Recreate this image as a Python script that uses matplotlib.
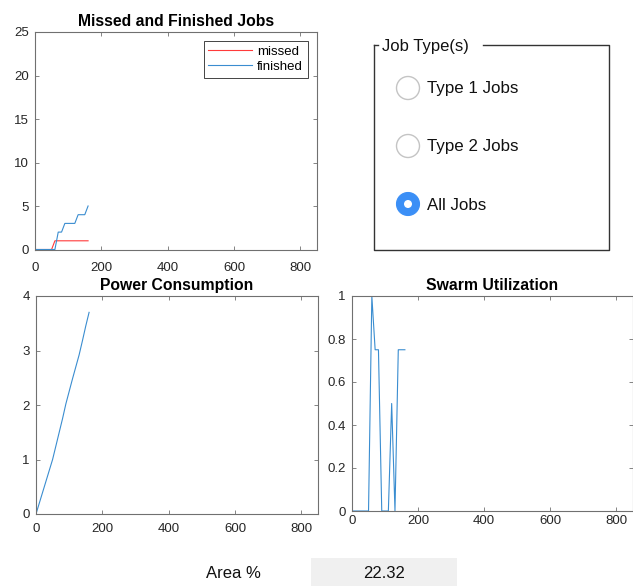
import matplotlib
matplotlib.use("Agg")
import matplotlib.pyplot as plt
from matplotlib.patches import Circle, Rectangle
from matplotlib.ticker import MultipleLocator

plt.rcParams['font.family'] = ['Liberation Sans', 'DejaVu Sans']

# time samples (s)
time = [0, 10, 20, 30, 40, 50, 60, 70, 80, 90, 100, 110, 120, 130, 140, 150, 160]
missed = [0, 0, 0, 0, 0, 0, 1, 1, 1, 1, 1, 1, 1, 1, 1, 1, 1]
finished = [0, 0, 0, 0, 0, 0, 0, 2, 2, 3, 3, 3, 3, 4, 4, 4, 5]
power = [0, 0.2, 0.4, 0.6, 0.8, 1.0, 1.25, 1.5, 1.75, 2.02, 2.25, 2.48, 2.7, 2.92, 3.18, 3.45, 3.7]
util = [0, 0, 0, 0, 0, 0, 1, 0.75, 0.75, 0, 0, 0, 0.5, 0, 0.75, 0.75, 0.75]

job_types = ['Type 1 Jobs', 'Type 2 Jobs', 'All Jobs']
selected = 'All Jobs'
area_pct = '22.32'

W, H = 633, 586
AX_C = '#262626'
SPINE_C = '#707070'
BLUE = '#3a8dd0'
RED = '#ff3a3a'
TICK_FS = 9.5
TITLE_FS = 11.3


def px_axes(fig, x0, y0, x1, y1):
    # pixel box (top-left origin) -> figure axes
    return fig.add_axes([x0 / W, 1 - y1 / H, (x1 - x0) / W, (y1 - y0) / H])


def matlab_style(ax, ymax, ystep, xpad):
    ax.set_xlim(0, 850)
    ax.set_ylim(0, ymax)
    ax.xaxis.set_major_locator(MultipleLocator(200))
    ax.yaxis.set_major_locator(MultipleLocator(ystep))
    ax.tick_params(direction='in', length=3, width=0.6, colors=SPINE_C,
                   labelcolor=AX_C, labelsize=TICK_FS, top=True, right=True)
    ax.tick_params(axis='y', pad=4.5)
    ax.tick_params(axis='x', pad=xpad)
    for s in ax.spines.values():
        s.set_color(SPINE_C)
        s.set_linewidth(0.8)


fig = plt.figure(figsize=(W / 100, H / 100), dpi=100)

# missed / finished
ax1 = px_axes(fig, 35, 32, 317, 249.5)
ax1.plot(time, missed, color=RED, lw=0.8, label='missed')
ax1.plot(time, finished, color=BLUE, lw=0.8, label='finished')
matlab_style(ax1, 25, 5, 9)
ax1.set_title('Missed and Finished Jobs', fontsize=TITLE_FS, fontweight='bold', pad=4)
leg = ax1.legend(loc='upper right', fontsize=TICK_FS, fancybox=False, framealpha=1,
                 edgecolor=AX_C, handlelength=3.3, borderaxespad=0.7,
                 labelspacing=0.2, handletextpad=0.4, borderpad=0.35)
leg.get_frame().set_linewidth(0.6)

# power
ax2 = px_axes(fig, 36, 296, 318, 514)
ax2.plot(time, power, color=BLUE, lw=0.8)
matlab_style(ax2, 4, 1, 6.5)
ax2.set_title('Power Consumption', fontsize=TITLE_FS, fontweight='bold', pad=4)

# swarm utilization
ax3 = px_axes(fig, 352, 296, 633, 511)
ax3.plot(time, util, color=BLUE, lw=0.8)
matlab_style(ax3, 1, 0.2, 3)
ax3.yaxis.set_major_formatter(plt.FuncFormatter(lambda v, p: '%g' % round(v, 2)))
ax3.set_title('Swarm Utilization', fontsize=TITLE_FS, fontweight='bold', pad=4)

# UI overlay in pixel coordinates
ui = fig.add_axes([0, 0, 1, 1])
ui.set_xlim(0, W)
ui.set_ylim(H, 0)
ui.axis('off')
ui.patch.set_alpha(0)

# button group panel
pc = '#333333'
ui.plot([374, 374, 609, 609, 483], [45, 250, 250, 45, 45], color=pc, lw=1.0)
ui.plot([374, 378], [45, 45], color=pc, lw=1.0)
ui.text(382, 46, 'Job Type(s)', fontsize=12, va='center', ha='left', color='#111111')

for i, name in enumerate(job_types):
    cy = 88 + i * 58
    if name == selected:
        ui.add_patch(Circle((408, cy), 11.5, facecolor='#3b8ff6', edgecolor='#3b8ff6', lw=0.8))
        ui.add_patch(Circle((408, cy), 4, facecolor='white', edgecolor='none'))
    else:
        ui.add_patch(Circle((408, cy), 11.5, facecolor='white', edgecolor='#c4c4c4', lw=1.0))
    ui.text(427, cy + 1, name, fontsize=12.2, va='center', ha='left', color='#111111')

# area readout
ui.text(233, 573, 'Area %', fontsize=12, va='center', ha='center', color='#111111')
ui.add_patch(Rectangle((311, 558), 146, 30, facecolor='#f0f0f0', edgecolor='none'))
ui.text(384, 573, area_pct, fontsize=12, va='center', ha='center', color='#111111')

fig.savefig('out.png', dpi=100)
